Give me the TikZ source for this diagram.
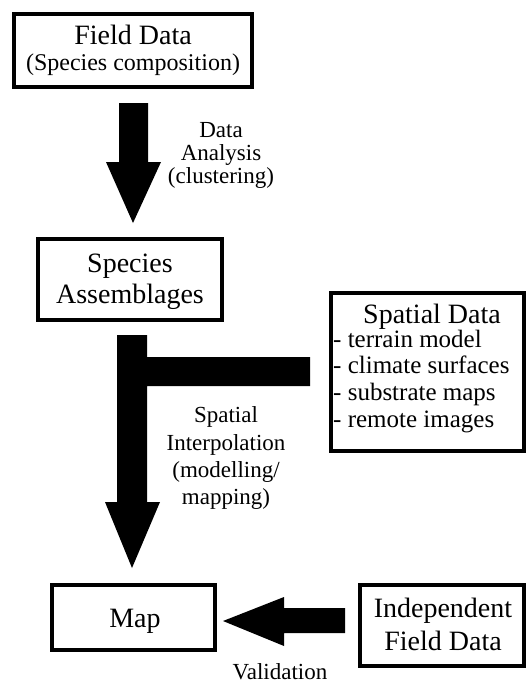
\documentclass[tikz,border=0pt]{standalone}
\usepackage{fontspec}
\setmainfont{Liberation Serif}
\begin{document}
\begin{tikzpicture}[x=1pt,y=-1pt,
  box/.style={draw=black,line width=4pt,fill=white,inner sep=0pt,outer sep=0pt},
  big/.style={font=\fontsize{28}{31}\selectfont,anchor=base,inner sep=0pt},
  mid/.style={font=\fontsize{24}{27}\selectfont,anchor=base,inner sep=0pt},
  lst/.style={font=\fontsize{25}{27}\selectfont,anchor=base west,inner sep=0pt},
  lab/.style={font=\fontsize{23}{27}\selectfont,anchor=base,inner sep=0pt},
  blk/.style={fill=black,draw=none}]
\useasboundingbox (0,0) rectangle (526,683);
% boxes
\node[box,minimum width=238pt,minimum height=73pt] (fd) at (133,50.5) {};
\node[box,minimum width=184pt,minimum height=81pt] (sa) at (130,279.5) {};
\node[box,minimum width=193pt,minimum height=158pt] (sd) at (427.5,372) {};
\node[box,minimum width=163pt,minimum height=65pt] (map) at (133.5,617.5) {};
\node[box,minimum width=164pt,minimum height=81pt] (ifd) at (442,625.5) {};
% box texts
\node[big] (fdt1) at (133,44) {Field Data};
\node[mid] (fdt2) at (133,70) {(Species composition)};
\node[big] (sat1) at (130,272) {Species};
\node[big] (sat2) at (130,303) {Assemblages};
\node[big] (sdt) at (432,323) {Spatial Data};
\node[lst] (sd1) at (333,347) {- terrain model};
\node[lst] (sd2) at (333,373) {- climate surfaces};
\node[lst] (sd3) at (333,400) {- substrate maps};
\node[lst] (sd4) at (333,427) {- remote images};
\node[big] (mapt) at (135,627) {Map};
\node[big] (ifdt1) at (443,617) {Independent};
\node[big] (ifdt2) at (443,650) {Field Data};
% arrow labels
\node[lab] (da1) at (221,137) {Data};
\node[lab] (da2) at (221,160) {Analysis};
\node[lab] (da3) at (221,183) {(clustering)};
\node[lab] (si1) at (226,422) {Spatial};
\node[lab] (si2) at (226,450) {Interpolation};
\node[lab] (si3) at (226,477) {(modelling/};
\node[lab] (si4) at (226,504) {mapping)};
\node[lab] (val) at (280,679) {Validation};
% block arrows
\fill[blk] (119,103) -- (148,103) -- (148,162) -- (161,162) -- (133,223)
  -- (106,162) -- (119,162) -- cycle;
\fill[blk] (117,335) -- (147,335) -- (147,357) -- (310,357) -- (310,386)
  -- (147,386) -- (147,502) -- (160,502) -- (132,568) -- (105,502)
  -- (117,502) -- cycle;
\fill[blk] (345,608) -- (345,633) -- (284,633) -- (284,646) -- (223,621)
  -- (284,597) -- (284,608) -- cycle;
\end{tikzpicture}
\end{document}
